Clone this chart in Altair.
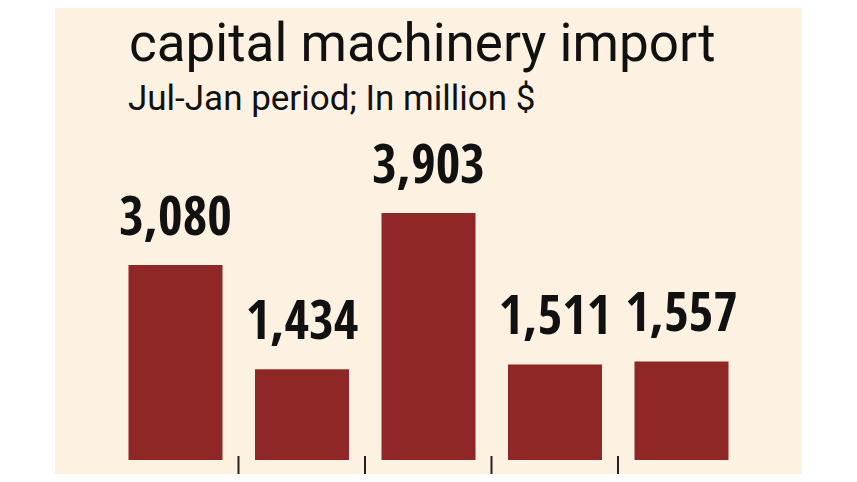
import altair as alt
import pandas as pd

# ---- data ----
years = ["FY20", "FY21", "FY22", "FY23", "FY24"]
values = [3080, 1434, 3903, 1511, 1557]
title_lines = ["capital machinery import"]
subtitle = "Jul-Jan period; In million $"

df = pd.DataFrame({"year": years, "value": values})
tick_df = pd.DataFrame({"year": years[:-1]})

BAR = "#8f2727"
BG = "#fdf2e1"
LABEL_FONT = "Open Sans Condensed"
TITLE_FONT = "Roboto"

W, H = 747, 466

x_scale = alt.Scale(domain=years, paddingInner=0.257, paddingOuter=0.581)
y_scale = alt.Scale(domain=[-221, 7142], nice=False, zero=False)

base = alt.Chart(df)

bars = base.mark_bar(color=BAR, clip=False).encode(
    x=alt.X("year:N", scale=x_scale, axis=None),
    y=alt.Y("value:Q", scale=y_scale, axis=None),
    y2=alt.datum(0),
)

labels = base.mark_text(
    font=LABEL_FONT, fontSize=53, fontWeight="bold", color="#111111",
    baseline="alphabetic", dy=-30,
).encode(
    x=alt.X("year:N", scale=x_scale, axis=None),
    y=alt.Y("value:Q", scale=y_scale, axis=None),
    text=alt.Text("value:Q", format=","),
)

ticks = alt.Chart(tick_df).mark_rule(color="#222222", strokeWidth=2, xOffset=16).encode(
    x=alt.X("year:N", scale=x_scale, axis=None, bandPosition=1),
    y=alt.value(448),
    y2=alt.value(H),
)

title = alt.Chart(pd.DataFrame({"t": title_lines})).mark_text(
    font=TITLE_FONT, fontSize=53, color="#111111", align="left", baseline="alphabetic"
).encode(x=alt.value(74), y=alt.value(53), text="t:N")

sub = alt.Chart(pd.DataFrame({"t": [subtitle]})).mark_text(
    font=TITLE_FONT, fontSize=35, color="#111111", align="left", baseline="alphabetic"
).encode(x=alt.value(73), y=alt.value(102), text="t:N")

chart = alt.layer(bars, labels, ticks, title, sub).properties(
    width=W, height=H,
    padding={"left": 47, "top": 0, "right": 0, "bottom": 0},
    background="white",
).configure_view(fill=BG, stroke=None)

chart.save("out.html", embed_options={"renderer": "svg", "actions": False})
